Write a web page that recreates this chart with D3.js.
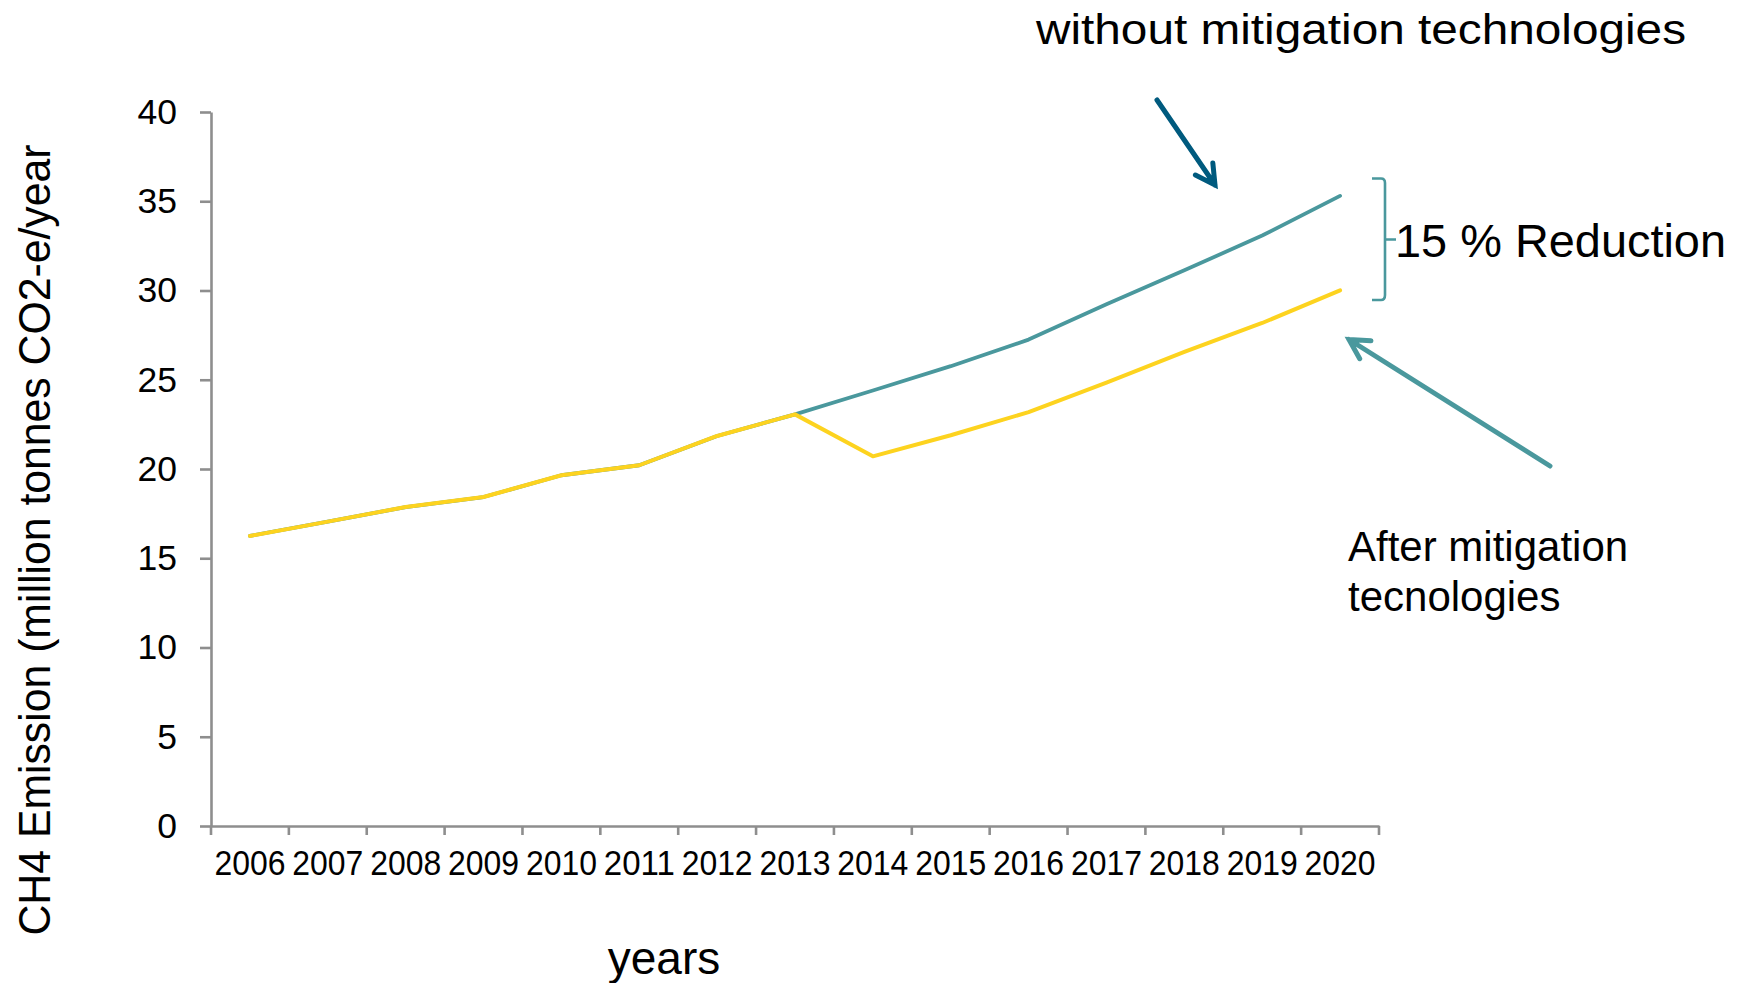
<!DOCTYPE html>
<html>
<head>
<meta charset="utf-8">
<script src="https://cdn.jsdelivr.net/npm/d3@7"></script>
<style>
  html, body { margin: 0; padding: 0; background: #fff; }
  svg { display: block; font-family: "Liberation Sans", Arial, sans-serif; }
</style>
</head>
<body>
<svg id="chart" width="1747" height="983"></svg>
<script>
// ---- data ----
const years = ["2006","2007","2008","2009","2010","2011","2012","2013","2014","2015","2016","2017","2018","2019","2020"];
const withoutMitigation = [16.25, 17.05, 17.87, 18.43, 19.65, 20.21, 21.85, 23.06, 24.4, 25.76, 27.25, 29.23, 31.13, 33.08, 35.3];
const afterMitigation   = [16.25, 17.05, 17.87, 18.43, 19.65, 20.21, 21.85, 23.06, 20.71, 21.89, 23.19, 24.84, 26.56, 28.18, 30.01];
const yTicks = [0, 5, 10, 15, 20, 25, 30, 35, 40];
const yTitle = "CH4 Emission (million tonnes CO2-e/year";
const xTitle = "years";
const topNote = "without mitigation technologies";
const reductionNote = "15 % Reduction";
const afterNoteLines = ["After mitigation", "tecnologies"];

// ---- layout ----
const svg = d3.select("#chart");
const plotLeft = 211, plotRight = 1379, plotTop = 112, plotBottom = 826;
const axisColor = "#8e8e8e";
const teal = "#4a989d";
const yellow = "#fdd31f";
const darkBlue = "#005a7e";

const x = d3.scaleBand().domain(years).range([plotLeft, plotRight]).padding(0);
const y = d3.scaleLinear().domain([0, 40]).range([plotBottom, plotTop]);

// y axis
const yAxis = svg.append("g")
  .attr("transform", `translate(${plotLeft},0)`)
  .call(d3.axisLeft(y).tickValues(yTicks).tickSize(11).tickPadding(23).tickSizeOuter(0));
yAxis.select(".domain").attr("stroke", axisColor).attr("stroke-width", 2.6);
yAxis.selectAll(".tick line").attr("stroke", axisColor).attr("stroke-width", 2.6);
yAxis.selectAll(".tick text").attr("fill", "#000").attr("font-size", 35.5)
  .attr("font-family", "'Liberation Sans', Arial, sans-serif");

// x axis (labels at band centres)
const xAxis = svg.append("g")
  .attr("transform", `translate(0,${plotBottom})`)
  .call(d3.axisBottom(x).tickSize(0).tickPadding(24).tickSizeOuter(0));
xAxis.select(".domain").attr("stroke", axisColor).attr("stroke-width", 2.6);
xAxis.selectAll(".tick text").attr("fill", "#000").attr("font-size", 35)
  .attr("font-family", "'Liberation Sans', Arial, sans-serif")
  .attr("textLength", 71).attr("lengthAdjust", "spacingAndGlyphs");

// x tick marks at band boundaries
const boundaries = years.map(d => x(d)).concat([x(years[years.length - 1]) + x.bandwidth()]);
svg.append("g").selectAll("line").data(boundaries).join("line")
  .attr("x1", d => d).attr("x2", d => d)
  .attr("y1", plotBottom).attr("y2", plotBottom + 9)
  .attr("stroke", axisColor).attr("stroke-width", 2.6);

// lines
const line = d3.line()
  .x((d, i) => x(years[i]) + x.bandwidth() / 2)
  .y(d => y(d));

svg.append("path").datum(withoutMitigation)
  .attr("d", line).attr("fill", "none")
  .attr("stroke", teal).attr("stroke-width", 3.8)
  .attr("stroke-linejoin", "round").attr("stroke-linecap", "round");

svg.append("path").datum(afterMitigation)
  .attr("d", line).attr("fill", "none")
  .attr("stroke", yellow).attr("stroke-width", 4)
  .attr("stroke-linejoin", "round").attr("stroke-linecap", "round");

// axis titles
svg.append("text")
  .attr("transform", "translate(50,540) rotate(-90)")
  .attr("text-anchor", "middle")
  .attr("font-size", 45)
  .attr("textLength", 791).attr("lengthAdjust", "spacingAndGlyphs")
  .attr("fill", "#000")
  .text(yTitle);

svg.append("text")
  .attr("x", 664).attr("y", 974)
  .attr("text-anchor", "middle")
  .attr("font-size", 46)
  .attr("fill", "#000")
  .text(xTitle);

// annotations
svg.append("text")
  .attr("x", 1036).attr("y", 44)
  .attr("font-size", 43)
  .attr("textLength", 650).attr("lengthAdjust", "spacingAndGlyphs")
  .attr("fill", "#000")
  .text(topNote);

svg.append("text")
  .attr("x", 1395).attr("y", 257)
  .attr("font-size", 46)
  .attr("textLength", 331).attr("lengthAdjust", "spacingAndGlyphs")
  .attr("fill", "#000")
  .text(reductionNote);

svg.append("text")
  .attr("x", 1348).attr("font-size", 42).attr("fill", "#000")
  .selectAll("tspan").data(afterNoteLines).join("tspan")
  .attr("x", 1348).attr("y", (d, i) => 561 + i * 50)
  .text(d => d);

// bracket
svg.append("path")
  .attr("d", "M1372,178.5 L1381,178.5 Q1385,178.5 1385,183 L1385,295 Q1385,300 1381,300 L1372,300 M1385,239.5 L1396,239.5")
  .attr("fill", "none").attr("stroke", teal).attr("stroke-width", 2.6);

// arrows
function arrow(x1, y1, x2, y2, color, w, head) {
  const ang = Math.atan2(y2 - y1, x2 - x1);
  const a1 = ang + Math.PI - 0.5, a2 = ang + Math.PI + 0.5;
  const p = `M${x1},${y1} L${x2},${y2} M${x2 + head * Math.cos(a1)},${y2 + head * Math.sin(a1)} L${x2},${y2} L${x2 + head * Math.cos(a2)},${y2 + head * Math.sin(a2)}`;
  svg.append("path").attr("d", p).attr("fill", "none")
    .attr("stroke", color).attr("stroke-width", w)
    .attr("stroke-linecap", "round").attr("stroke-linejoin", "miter");
}
arrow(1157, 100, 1215, 185, darkBlue, 5, 22);
arrow(1550, 466, 1349, 339.5, teal, 5, 22);
</script>
</body>
</html>
